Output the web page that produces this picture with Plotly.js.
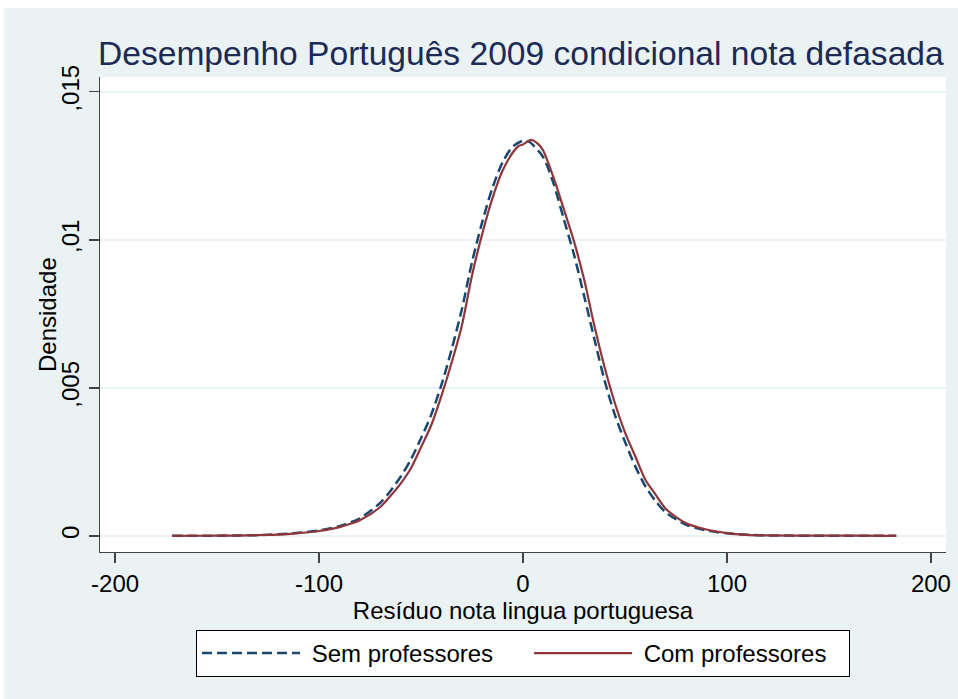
<!DOCTYPE html>
<html>
<head>
<meta charset="utf-8">
<script src="https://cdn.plot.ly/plotly-3.0.1.min.js"></script>
<style>html,body{margin:0;padding:0;background:#fff;}#chart{width:958px;height:699px;}</style>
</head>
<body>
<div id="chart"></div>
<script>
// Residual grid (x) and kernel density estimates
const xSem = [-172,-160,-150,-140,-130,-120,-110,-100,-90,-80,-70,-65,-60,-55,-50,-45,-40,-35,-30,-25,-20,-15,-10,-5,0,3,5,10,15,20,25,30,35,40,45,50,55,60,65,70,80,90,100,110,120,140,160,183];
const ySem = [0.000005,0.000008,0.00001,0.00002,0.00003,0.00006,0.00011,0.00019,0.00033,0.0006,0.00112,0.00152,0.002,0.00258,0.0033,0.0041,0.0051,0.0063,0.00765,0.00925,0.0106,0.01175,0.01262,0.01315,0.01335,0.01332,0.0132,0.01278,0.0119,0.0107,0.0095,0.0081,0.00665,0.00525,0.0041,0.00318,0.00236,0.00168,0.00118,0.0008,0.00038,0.00019,0.00009,0.00004,0.00002,0.00001,0.00001,0.000005];

const xCom = [-172,-160,-150,-140,-130,-120,-110,-100,-90,-80,-70,-65,-60,-55,-50,-45,-40,-35,-30,-25,-20,-15,-10,-5,-2,0,4,8,10,15,20,25,30,35,40,45,50,55,60,65,70,80,90,100,110,120,140,160,183];
const yCom = [0.000005,0.000008,0.00001,0.000015,0.00003,0.00005,0.0001,0.00017,0.0003,0.00053,0.00098,0.00135,0.00177,0.00228,0.003,0.00374,0.00473,0.00585,0.0071,0.0088,0.0102,0.0114,0.01234,0.01295,0.01318,0.01322,0.01338,0.0132,0.013,0.0121,0.01104,0.00995,0.00865,0.0071,0.0057,0.0045,0.0035,0.0027,0.0019,0.0014,0.00092,0.00043,0.00022,0.0001,0.00004,0.00002,0.00001,0.00001,0.000005];

const seriesNames = ["Sem professores", "Com professores"];
const xTicks = [-200,-100,0,100,200];
const xTickLabels = ["-200","-100","0","100","200"];
const yTicks = [0,0.005,0.01,0.015];
const yTickLabels = ["0",",005",",01",",015"];

const FONT = "Liberation Sans, Arial, sans-serif";
const BG = "#EAF2F3";
const NB = "\u00A0";

const traces = [
  {x: xSem, y: ySem, type: "scatter", mode: "lines", name: NB + seriesNames[0], legendwidth: 219,
   line: {color: "#1A476F", width: 2.5, dash: "10px,5px", shape: "spline", smoothing: 0.8}},
  {x: xCom, y: yCom, type: "scatter", mode: "lines", name: NB + seriesNames[1], legendwidth: 207,
   line: {color: "#90353B", width: 2.2, shape: "spline", smoothing: 0.8}}
];

const PW = 846, PH = 475;
const layout = {
  width: 958, height: 699,
  margin: {l: 100, r: 12, t: 77, b: 147, pad: 0},
  paper_bgcolor: BG,
  plot_bgcolor: "#FFFFFF",
  font: {family: FONT, size: 24, color: "#000"},
  title: {text: "Desempenho Português 2009 condicional nota defasada",
          font: {family: FONT, size: 33.6, color: "#1C2A56"},
          x: 98/958, xanchor: "left", xref: "container",
          y: 1 - 53/699, yanchor: "middle", yref: "container"},
  xaxis: {range: [-207.4, 207.4], tickvals: xTicks, ticktext: xTickLabels,
          showgrid: false, zeroline: false, showline: true, linecolor: "#444", linewidth: 1.3,
          ticks: "outside", ticklen: 10, tickcolor: "#444", tickwidth: 1.3,
          tickfont: {size: 24, color: "#000"},
          title: {text: "Resíduo nota lingua portuguesa", font: {size: 24, color: "#000"}, standoff: 0}},
  yaxis: {range: [-0.00054, 0.0155], tickvals: yTicks, ticktext: yTickLabels, tickangle: -90,
          showgrid: true, gridcolor: BG, gridwidth: 1.5, zeroline: false,
          showline: true, linecolor: "#444", linewidth: 1.3,
          ticks: "outside", ticklen: 10, tickcolor: "#444", tickwidth: 1.3,
          tickfont: {size: 24, color: "#000"}},
  annotations: [
    {text: "Densidade", xref: "paper", yref: "paper", x: (47-100)/PW, y: (552-315)/PH,
     xanchor: "center", yanchor: "middle", textangle: -90, showarrow: false,
     font: {family: FONT, size: 24, color: "#000"}}
  ],
  showlegend: true,
  legend: {orientation: "h", x: (196-100)/PW, xanchor: "left", y: (552-630)/PH, yanchor: "top",
           bgcolor: "#FFFFFF", bordercolor: "#000", borderwidth: 1,
           font: {size: 24, color: "#000"}, itemwidth: 98, entrywidthmode: "pixels",
           tracegroupgap: 0},
  shapes: [
    {type: "rect", xref: "paper", yref: "paper", x0: -100/PW, x1: 1 + 12/PW, y0: 1 + 69/PH, y1: 1 + 77/PH,
     fillcolor: "#FFFFFF", line: {width: 0}, layer: "above"},
    {type: "rect", xref: "paper", yref: "paper", x0: -100/PW, x1: -96/PW, y0: -147/PH, y1: 1 + 77/PH,
     fillcolor: "#FFFFFF", line: {width: 0}, layer: "above"}
  ]
};

Plotly.newPlot("chart", traces, layout, {displayModeBar: false, staticPlot: true});
</script>
</body>
</html>
